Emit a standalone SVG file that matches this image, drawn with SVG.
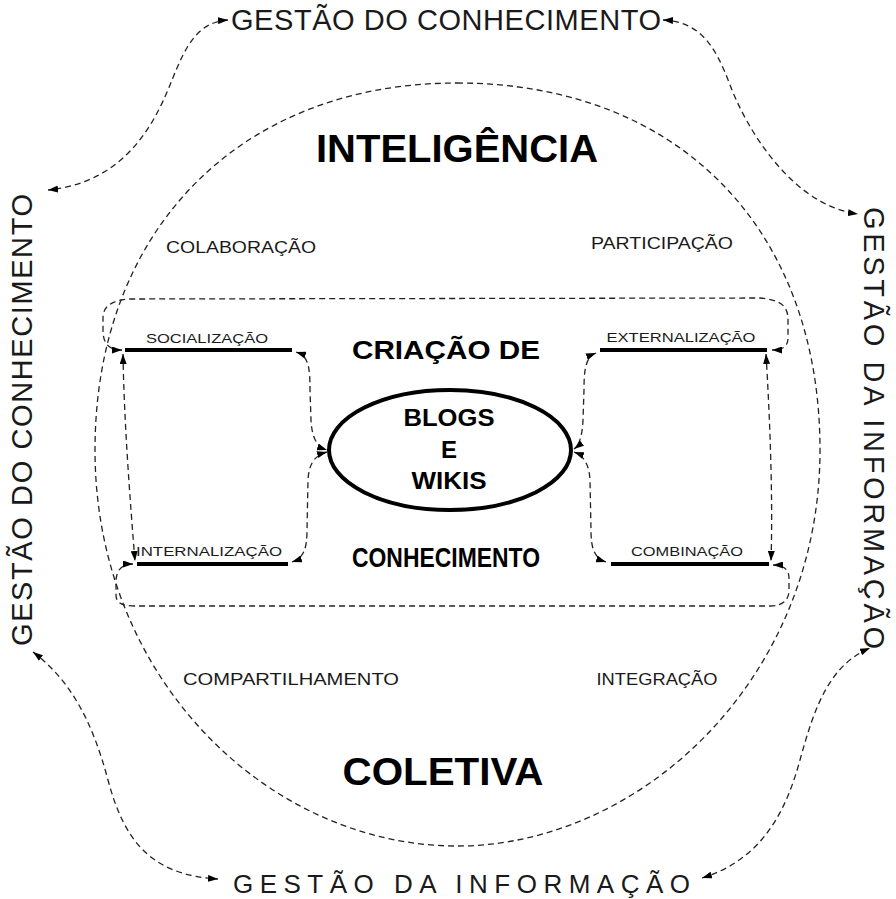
<svg xmlns="http://www.w3.org/2000/svg" width="896" height="899" viewBox="0 0 896 899">
<style>
  .bg{fill:#fff}
  .dash{fill:none;stroke:#222;stroke-width:1.3;stroke-dasharray:6 4}
  .conn{fill:none;stroke:#222;stroke-width:1.3;stroke-dasharray:6 4;marker-start:url(#ah);marker-end:url(#ah)}
  .bar{stroke:#000;stroke-width:4;fill:none}
  .t{font-family:"Liberation Sans",Arial,sans-serif;fill:#1a1a1a}
  .b{font-family:"Liberation Sans",Arial,sans-serif;font-weight:bold;fill:#000}
  .outer{font-size:29px}
  .mid{font-size:17px}
  .small{font-size:13px}
</style>
<defs>
  <marker id="ah" viewBox="0 0 10 7" refX="10" refY="3.5" markerWidth="10" markerHeight="7" markerUnits="userSpaceOnUse" orient="auto-start-reverse">
    <path d="M0,0 L10,3.5 L0,7 z" fill="#000"/>
  </marker>
</defs>
<rect class="bg" width="896" height="899"/>

<g id="connectors">
  <path id="inner-boundary" class="dash" d="M457,83 C680,83 820,230 820,450 C820,680 640,846 457,846 C270,846 95,680 95,450 C95,230 240,83 457,83 Z"/>
  <path class="conn" d="M228,20 C198,22 186,45 172,80 S130,182 48,190"/>
  <path class="conn" d="M663,20 C700,22 715,45 730,85 S790,205 858,214"/>
  <path class="conn" d="M33,652 C70,680 92,720 108,780 S150,875 218,879"/>
  <path class="conn" d="M702,878 C760,860 785,815 800,760 S830,665 870,648"/>
  <path class="conn" d="M122,350 C110,350 103,345 103,330 L103,318 C103,306 112,300 130,299 L760,298 C780,300 788,305 788,320 L788,338 C788,347 782,350 772,350"/>
  <path class="conn" d="M133,564 C122,564 116,570 116,582 L116,595 C116,603 122,606 135,606 L770,606 C783,606 789,600 789,590 L789,578 C789,570 784,565 773,565"/>
  <path class="conn" d="M123,354 C124,420 130,500 135,561"/>
  <path class="conn" d="M766,354 C770,420 773,500 771,561"/>
  <path class="conn" d="M296,352 C308,356 310,365 310,390 L311,420 C312,440 318,447 327,450"/>
  <path class="conn" d="M292,562 C304,558 307,548 307,530 L308,480 C309,462 316,455 327,452"/>
  <path class="conn" d="M596,353 C586,357 584,368 584,390 L583,420 C582,440 578,446 574,449"/>
  <path class="conn" d="M606,562 C594,558 591,548 591,530 L590,480 C589,462 582,455 574,452"/>
</g>

<g id="gestao-conhecimento-top"><text class="t outer" x="231" y="30" textLength="430" lengthAdjust="spacing">GESTÃO DO CONHECIMENTO</text></g>
<g id="gestao-informacao-bottom"><text class="t" font-size="26" x="233" y="893" textLength="457" lengthAdjust="spacing">GESTÃO DA INFORMAÇÃO</text></g>
<g id="gestao-conhecimento-left"><text class="t outer" transform="translate(32,646) rotate(-90)" x="0" y="0" textLength="452" lengthAdjust="spacing">GESTÃO DO CONHECIMENTO</text></g>
<g id="gestao-informacao-right"><text class="t outer" transform="translate(864,207) rotate(90)" x="0" y="0" textLength="442" lengthAdjust="spacing">GESTÃO DA INFORMAÇÃO</text></g>

<g id="inteligencia"><text class="b" font-size="38" x="457" y="162" text-anchor="middle" textLength="282" lengthAdjust="spacingAndGlyphs">INTELIGÊNCIA</text></g>
<g id="coletiva"><text class="b" font-size="38" x="443" y="785" text-anchor="middle" textLength="201" lengthAdjust="spacingAndGlyphs">COLETIVA</text></g>

<g id="colaboracao"><text class="t mid" x="241" y="253" text-anchor="middle" textLength="150" lengthAdjust="spacingAndGlyphs">COLABORAÇÃO</text></g>
<g id="participacao"><text class="t mid" x="662" y="249" text-anchor="middle" textLength="142" lengthAdjust="spacingAndGlyphs">PARTICIPAÇÃO</text></g>
<g id="compartilhamento"><text class="t mid" x="291" y="685" text-anchor="middle" textLength="216" lengthAdjust="spacingAndGlyphs">COMPARTILHAMENTO</text></g>
<g id="integracao"><text class="t mid" x="657" y="685" text-anchor="middle" textLength="121" lengthAdjust="spacingAndGlyphs">INTEGRAÇÃO</text></g>

<g id="criacao"><text class="b" font-size="26" x="446" y="359" text-anchor="middle" textLength="188" lengthAdjust="spacingAndGlyphs">CRIAÇÃO DE</text>
<text class="b" font-size="27" x="446" y="567" text-anchor="middle" textLength="188" lengthAdjust="spacingAndGlyphs">CONHECIMENTO</text></g>

<g id="blogs-wikis">
  <ellipse cx="450" cy="450" rx="121" ry="60" fill="none" stroke="#000" stroke-width="4"/>
  <text class="b" font-size="24" x="449" y="426" text-anchor="middle" textLength="91" lengthAdjust="spacingAndGlyphs">BLOGS</text>
  <text class="b" font-size="24" x="449" y="458" text-anchor="middle">E</text>
  <text class="b" font-size="24" x="449" y="489" text-anchor="middle" textLength="75" lengthAdjust="spacingAndGlyphs">WIKIS</text>
</g>

<g id="socializacao"><line class="bar" x1="125" y1="350" x2="292" y2="350"/><text class="t small" x="207" y="343" text-anchor="middle" textLength="122" lengthAdjust="spacingAndGlyphs">SOCIALIZAÇÃO</text></g>
<g id="externalizacao"><line class="bar" x1="600" y1="350" x2="767" y2="350"/><text class="t small" x="681" y="342" text-anchor="middle" textLength="149" lengthAdjust="spacingAndGlyphs">EXTERNALIZAÇÃO</text></g>
<g id="internalizacao"><line class="bar" x1="137" y1="564" x2="288" y2="564"/><text class="t small" x="209" y="556" text-anchor="middle" textLength="146" lengthAdjust="spacingAndGlyphs">INTERNALIZAÇÃO</text></g>
<g id="combinacao"><line class="bar" x1="611" y1="564" x2="769" y2="564"/><text class="t small" x="687" y="556" text-anchor="middle" textLength="112" lengthAdjust="spacingAndGlyphs">COMBINAÇÃO</text></g>
</svg>
